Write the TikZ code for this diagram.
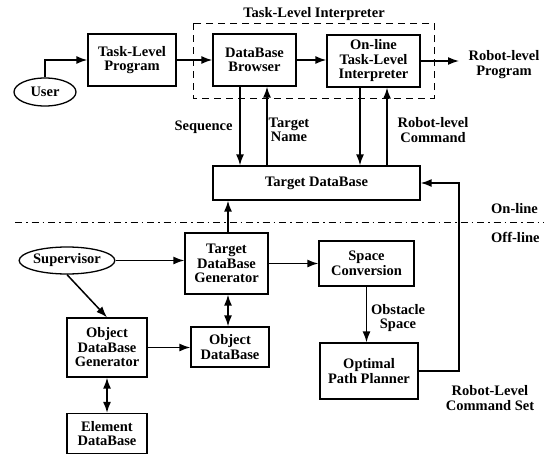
\documentclass[tikz,border=0pt]{standalone}
\usepackage{fontspec}
\setmainfont{Liberation Serif}
\usetikzlibrary{arrows.meta,shapes.geometric}
\begin{document}
\begin{tikzpicture}[x=1pt,y=-1pt,
  font=\fontsize{14.5}{14.5}\selectfont\bfseries,
  box/.style={draw,line width=1.3pt,rectangle,align=center,inner sep=1pt},
  oval/.style={draw,line width=1.3pt,ellipse,inner sep=0pt},
  arr/.style={line width=1.5pt,-{Latex[length=11pt,width=8pt]}},
  darr/.style={line width=1.5pt,{Latex[length=11pt,width=8pt]}-{Latex[length=11pt,width=8pt]}},
  lbl/.style={align=center,inner sep=0pt}]
\useasboundingbox (0,0) rectangle (544,455);
% nodes
\node[oval,minimum width=62pt,minimum height=28pt] (user) at (45,92) {User};
\node[box,minimum width=88pt,minimum height=52pt] (prog) at (132,60) {Task-Level\\Program};
\node[box,minimum width=83pt,minimum height=52pt] (browser) at (254.5,60) {DataBase\\Browser};
\node[box,minimum width=93pt,minimum height=52pt] (interp) at (373.5,61) {On-line\\Task-Level\\Interpreter};
\draw[line width=0.7pt,dash pattern=on 7pt off 5pt] (193,23) rectangle (434,98);
\node[lbl] (title) at (314,14) {Task-Level Interpreter};
\coordinate (out) at (459,61);
\node[lbl] (rlp) at (504,64.5) {Robot-level\\Program};
\node[box,minimum width=207pt,minimum height=34pt] (tdb) at (316.5,183) {Target DataBase};
\node[box,minimum width=83pt,minimum height=61pt] (tdg) at (226.5,263.5) {Target\\DataBase\\Generator};
\node[oval,minimum width=92pt,minimum height=27pt] (sup) at (67,260.5) {Supervisor};
\node[box,minimum width=95pt,minimum height=45pt] (space) at (366.5,263.5) {Space\\Conversion};
\node[box,minimum width=98pt,minimum height=56pt] (planner) at (369,371) {Optimal\\Path Planner};
\node[box,minimum width=80pt,minimum height=59pt] (odg) at (107,347.5) {Object\\DataBase\\Generator};
\node[box,minimum width=78pt,minimum height=40pt] (odb) at (230,347) {Object\\DataBase};
\node[box,minimum width=80pt,minimum height=40pt] (edb) at (107,433.5) {Element\\DataBase};
\coordinate (rail) at (459,0);
% labels
\node[lbl] (seq) at (203.5,127) {Sequence};
\node[lbl] (tname) at (289,130) {Target\\Name};
\node[lbl] (rlc) at (433,130) {Robot-level\\Command};
\node[lbl] (obs) at (398,318) {Obstacle\\Space};
\node[lbl] (rlcs) at (490,398) {Robot-Level\\Command Set};
\node[lbl,anchor=west] (online) at (491,209) {On-line};
\node[lbl,anchor=west] (offline) at (491,237) {Off-line};
\coordinate (dl) at (15,222);
\coordinate (dr) at (544,222);
\draw[line width=0.8pt,dash pattern=on 7pt off 4pt on 1.5pt off 4pt] (dl) -- (dr);
% connectors
\draw[arr] (user.north) |- (prog.west);
\draw[arr] (prog.east) -- (browser.west);
\draw[arr] (browser.east) -- (browser.east -| interp.west);
\draw[arr] (interp.east) -- (out);
\draw[arr] ([xshift=-14.5pt]browser.south) -- ([xshift=-14.5pt]browser.south |- tdb.north);
\draw[arr] ([xshift=12.5pt]browser.south |- tdb.north) -- ([xshift=12.5pt]browser.south);
\draw[arr] ([xshift=-13.5pt]interp.south) -- ([xshift=-13.5pt]interp.south |- tdb.north);
\draw[arr] ([xshift=13.5pt]interp.south |- tdb.north) -- ([xshift=13.5pt]interp.south);
\draw[arr] ([xshift=1.5pt]tdg.north) -- ([xshift=1.5pt]tdg.north |- tdb.south);
\draw[arr] (sup.east) -- (sup.east -| tdg.west);
\draw[arr] (sup.south) -- (odg.north);
\draw[arr] (tdg.east) -- (space.west);
\draw[arr] (space.south) -- (space.south |- planner.north);
\draw[arr] (planner.east) -- (planner.east -| rail) -- (tdb.east -| rail) -- (tdb.east);
\draw[arr] (odg.east) -- (odg.east -| odb.west);
\draw[darr] ([xshift=1.5pt]tdg.south) -- ([xshift=1.5pt]tdg.south |- odb.north);
\draw[darr] (odg.south) -- (edb.north);
\end{tikzpicture}
\end{document}
